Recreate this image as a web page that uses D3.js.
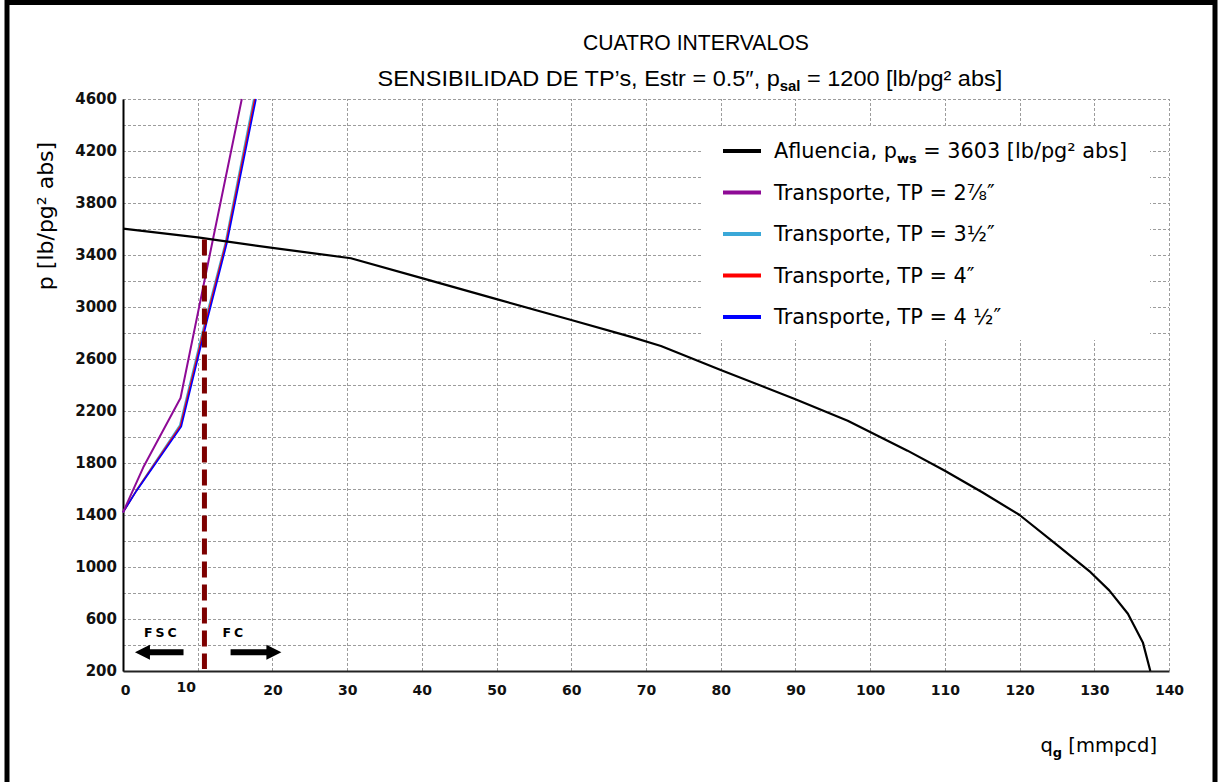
<!DOCTYPE html>
<html>
<head>
<meta charset="utf-8">
<script src="https://cdn.jsdelivr.net/npm/d3@7"></script>
<style>
  body { margin: 0; background: #fff; }
  svg { display: block; }
</style>
</head>
<body>
<svg id="chart" width="1221" height="782"></svg>
<script>
// Curva de afluencia (IPR), pws = 3603 lb/pg² abs
const qAfluencia = [0, 10, 20, 30.5, 40, 50, 60, 68, 72, 80, 90, 97, 105, 110, 115, 120, 125, 129.5, 132, 134.5, 136.5, 137.5];
const pAfluencia = [3603, 3535, 3455, 3375, 3222, 3061, 2900, 2770, 2700, 2516, 2290, 2125, 1895, 1740, 1575, 1400, 1170, 960, 820, 640, 420, 200];

// Curvas de transporte para cada diámetro de TP
const qTP278 = [0, 2.7, 7.7, 12.0, 15.9];
const pTP278 = [1420, 1765, 2300, 3510, 4600];
const qTP312 = [0, 1.8, 7.6, 11.1, 13.7, 17.5];
const pTP312 = [1420, 1590, 2090, 2920, 3495, 4600];
const qTP4 = [0, 1.8, 7.7, 11.2, 13.8, 17.65];
const pTP4 = [1420, 1588, 2085, 2912, 3495, 4600];
const qTP412 = [0, 1.8, 7.8, 11.3, 13.9, 17.8];
const pTP412 = [1420, 1585, 2080, 2905, 3490, 4600];

// Ejes
const xTickValues = [0, 10, 20, 30, 40, 50, 60, 70, 80, 90, 100, 110, 120, 130, 140];
const yTickValues = [200, 600, 1000, 1400, 1800, 2200, 2600, 3000, 3400, 3800, 4200, 4600];
const yGridValues = [200, 400, 600, 800, 1000, 1200, 1400, 1600, 1800, 2000, 2200, 2400, 2600, 2800, 3000, 3200, 3400, 3600, 3800, 4000, 4200, 4400, 4600];

// Gasto límite entre flujo sin control (FSC) y flujo controlado (FC)
const qLimite = 10.9;
const pLimite = 3520;

const svg = d3.select("#chart");
const X0 = 123, X1 = 1169, Y0 = 671, Y1 = 99;
const x = d3.scaleLinear().domain([0, 140]).range([X0, X1]);
const y = d3.scaleLinear().domain([200, 4600]).range([Y0, Y1]);

const FONT = "'DejaVu Sans', Verdana, sans-serif";
const TITLE_FONT = "'Liberation Sans', Arial, sans-serif";

// Marco exterior
svg.append("path")
  .attr("d", "M7,782 V2.5 H1215 V782")
  .attr("fill", "none").attr("stroke", "#000").attr("stroke-width", 5);

// Títulos (ajustados a su ancho)
function fittedTitle(cx, baseline, width, build) {
  const g = svg.append("g");
  const t = g.append("text")
    .attr("x", 0).attr("y", 0)
    .attr("font-family", TITLE_FONT).attr("font-size", 22).attr("fill", "#000");
  build(t);
  const bb = t.node().getBBox();
  const sx = width / bb.width;
  g.attr("transform", `translate(${cx - (bb.x + bb.width / 2) * sx},${baseline}) scale(${sx},1)`);
}
fittedTitle(696, 50, 226, t => t.text("CUATRO INTERVALOS"));
fittedTitle(690, 86, 625, t => {
  t.append("tspan").text("SENSIBILIDAD DE TP’s, Estr = 0.5″, p");
  t.append("tspan").attr("dy", 5).attr("font-size", 14).attr("font-weight", "bold").text("sal");
  t.append("tspan").attr("dy", -5).text(" = 1200 [lb/pg² abs]");
});

// Rejilla
const grid = svg.append("g").attr("stroke", "#9c9c9c").attr("stroke-width", 1).attr("stroke-dasharray", "3,2");
grid.selectAll("line.h").data(yGridValues).join("line")
  .attr("class", "h")
  .attr("x1", X0).attr("x2", X1)
  .attr("y1", d => Math.round(y(d)) + 0.5).attr("y2", d => Math.round(y(d)) + 0.5);
grid.selectAll("line.v").data(xTickValues.slice(1)).join("line")
  .attr("class", "v")
  .attr("y1", Y0).attr("y2", Y1)
  .attr("x1", d => Math.round(x(d)) + 0.5).attr("x2", d => Math.round(x(d)) + 0.5);

// Ejes
const yAxis = svg.append("g").attr("transform", `translate(${X0},0)`)
  .call(d3.axisLeft(y).tickValues(yTickValues).tickSize(0).tickSizeOuter(0).tickPadding(6).tickFormat(d3.format("d")));
yAxis.select(".domain").attr("stroke", "#000").attr("stroke-width", 2);
yAxis.selectAll("text").attr("font-family", FONT).attr("font-size", 15).attr("font-weight", "bold").attr("fill", "#111");

const xAxis = svg.append("g").attr("transform", `translate(0,${Y0})`)
  .call(d3.axisBottom(x).tickValues(xTickValues).tickSize(0).tickSizeOuter(0).tickPadding(14).tickFormat(d3.format("d")));
xAxis.select(".domain").attr("stroke", "#222").attr("stroke-width", 2);
xAxis.selectAll("text").attr("font-family", FONT).attr("font-size", 14).attr("font-weight", "bold").attr("fill", "#111");
xAxis.selectAll(".tick").filter(d => d === 0).select("text").attr("dx", 2);
xAxis.selectAll(".tick").filter(d => d === 10).select("text").attr("dx", -12).attr("y", 11);

// Títulos de ejes
svg.append("text")
  .attr("transform", "translate(53,216) rotate(-90)")
  .attr("text-anchor", "middle")
  .attr("font-family", FONT).attr("font-size", 22).attr("fill", "#000")
  .text("p [lb/pg² abs]");

const xt = svg.append("text")
  .attr("x", 1157).attr("y", 752).attr("text-anchor", "end")
  .attr("font-family", FONT).attr("font-size", 19.5).attr("fill", "#000");
xt.append("tspan").text("q");
xt.append("tspan").attr("dy", 5).attr("font-size", 13).attr("font-weight", "bold").text("g");
xt.append("tspan").attr("dy", -5).text(" [mmpcd]");

// Series
const series = [
  { name: "Afluencia", q: qAfluencia, p: pAfluencia, color: "#000000", width: 2.2 },
  { name: "TP 2 7/8", q: qTP278, p: pTP278, color: "#8e0a96", width: 2 },
  { name: "TP 4 1/2", q: qTP412, p: pTP412, color: "#0000ff", width: 1.6 },
  { name: "TP 4", q: qTP4, p: pTP4, color: "#ff0000", width: 1.6 },
  { name: "TP 3 1/2", q: qTP312, p: pTP312, color: "#3aa8d8", width: 1.6 }
];
const line = d3.line().x(d => x(d[0])).y(d => y(d[1]));
const plot = svg.append("g");
series.slice().reverse().forEach(s => {
  plot.append("path")
    .datum(s.q.map((q, i) => [q, s.p[i]]))
    .attr("d", line)
    .attr("fill", "none")
    .attr("stroke", s.color)
    .attr("stroke-width", s.width)
    .attr("stroke-linejoin", "round");
});

// Línea vertical del gasto límite
svg.append("line")
  .attr("x1", x(qLimite)).attr("x2", x(qLimite))
  .attr("y1", y(pLimite)).attr("y2", Y0 - 2)
  .attr("stroke", "#7d0000").attr("stroke-width", 5).attr("stroke-dasharray", "16,7");

// Anotaciones FSC / FC
function arrow(qFrom, qTo, p) {
  const xa = x(qFrom), xb = x(qTo), ya = y(p);
  const dir = Math.sign(xb - xa);
  const head = 15, half = 7.5, shaft = 3;
  const xh = xb - dir * head;
  svg.append("path")
    .attr("d", `M${xa},${ya - shaft} L${xh},${ya - shaft} L${xh},${ya - half} L${xb},${ya} L${xh},${ya + half} L${xh},${ya + shaft} L${xa},${ya + shaft} Z`)
    .attr("fill", "#000");
}
arrow(8.1, 1.6, 345);
arrow(14.4, 21.2, 345);
svg.append("text").attr("x", x(5.2)).attr("y", 637).attr("text-anchor", "middle")
  .attr("font-family", FONT).attr("font-size", 12.5).attr("font-weight", "bold").attr("letter-spacing", 3)
  .text("FSC");
svg.append("text").attr("x", x(14.9)).attr("y", 637).attr("text-anchor", "middle")
  .attr("font-family", FONT).attr("font-size", 12.5).attr("font-weight", "bold").attr("letter-spacing", 3)
  .text("FC");

// Leyenda
const legendItems = [
  { color: "#000000", parts: [["Afluencia,  p", 0], ["ws", 1], [" = 3603 [lb/pg² abs]", 0]] },
  { color: "#8e0a96", parts: [["Transporte,  TP = 2⅞″", 0]] },
  { color: "#3aa8d8", parts: [["Transporte,  TP = 3½″", 0]] },
  { color: "#ff0000", parts: [["Transporte,  TP = 4″", 0]] },
  { color: "#0000ff", parts: [["Transporte,  TP = 4 ½″", 0]] }
];
const legend = svg.append("g");
legend.append("rect").attr("x", 703).attr("y", 127).attr("width", 447).attr("height", 213).attr("fill", "#fff");
legendItems.forEach((it, i) => {
  const cy = 151 + i * 41.5;
  legend.append("line").attr("x1", 723).attr("x2", 761).attr("y1", cy).attr("y2", cy)
    .attr("stroke", it.color).attr("stroke-width", 4);
  const t = legend.append("text").attr("x", 774).attr("y", cy + 7)
    .attr("font-family", FONT).attr("font-size", 20.8).attr("fill", "#000");
  it.parts.forEach(([s, sub]) => {
    const ts = t.append("tspan").text(s);
    if (sub) ts.attr("dy", 5).attr("font-size", 13).attr("font-weight", "bold");
    else if (t.selectAll("tspan").size() > 1) ts.attr("dy", -5);
  });
});
</script>
</body>
</html>
